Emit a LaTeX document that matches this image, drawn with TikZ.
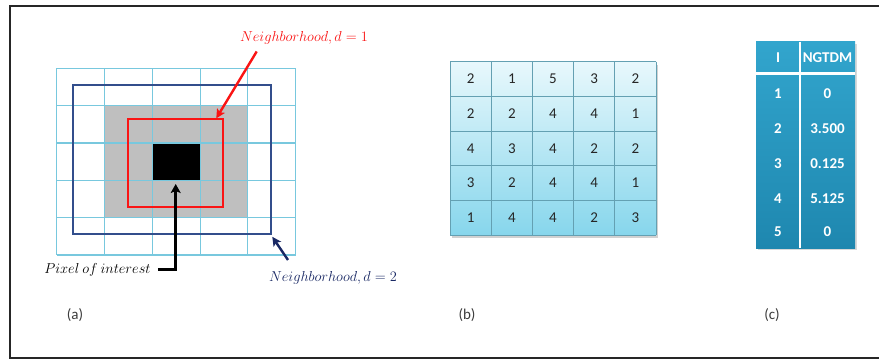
\documentclass[tikz,border=0pt]{standalone}
\usepackage{fontspec}
\setmainfont{Carlito}
\usetikzlibrary{arrows.meta,calc}

\definecolor{gridcyan}{RGB}{120,200,222}
\definecolor{nbrred}{RGB}{250,20,20}
\definecolor{nbrblue}{RGB}{50,78,140}
\definecolor{navy}{RGB}{25,40,100}
\definecolor{lbltxt}{RGB}{60,60,60}
\definecolor{celltop}{RGB}{232,248,252}
\definecolor{cellbot}{RGB}{135,214,236}
\definecolor{cellline}{RGB}{100,160,178}
\definecolor{tabtop}{RGB}{50,165,205}
\definecolor{tabbot}{RGB}{30,135,175}

\tikzset{
  frame/.style={draw=black!85, line width=2.2pt},
  gridline/.style={draw=gridcyan, line width=1.1pt},
  redbox/.style={draw=nbrred, line width=2pt},
  bluebox/.style={draw=nbrblue, line width=2pt},
  redarrow/.style={draw=nbrred, line width=2.4pt, -{Stealth[length=9pt,width=9pt,inset=2pt]}},
  bluearrow/.style={draw=navy, line width=2.4pt, -{Stealth[length=9pt,width=9pt,inset=2pt]}},
  blackarrow/.style={draw=black, line width=2.6pt, -{Stealth[length=9pt,width=10pt,inset=2pt]}},
  mathlbl/.style={inner sep=0pt},
  numcell/.style={inner sep=0pt, text=black!85, font=\fontsize{15}{18}\selectfont},
  tabtxt/.style={inner sep=0pt, text=white, font=\fontsize{15}{18}\selectfont\bfseries},
  caption/.style={inner sep=0pt, text=lbltxt, font=\fontsize{15}{18}\selectfont},
}

\begin{document}
\begin{tikzpicture}[x=1pt,y=-1pt]
\useasboundingbox (0,0) rectangle (879,363);
\fill[white] (0,0) rectangle (879,363);

% outer frame, open to the right
\draw[frame] (890,6) -- (10,6) -- (10,358) -- (890,358);

% ---------- (a) neighbourhood sketch ----------
\def\gx{56.7}\def\gy{68.3}\def\cw{47.8}\def\ch{37.34}
\fill[black!25] (\gx+\cw,\gy+\ch) rectangle (\gx+4*\cw,\gy+4*\ch);
\fill[black] (\gx+2*\cw,\gy+2*\ch) rectangle (\gx+3*\cw,\gy+3*\ch);
\foreach \i in {0,...,5} {
  \draw[gridline] (\gx+\i*\cw,\gy) -- (\gx+\i*\cw,\gy+5*\ch);
  \draw[gridline] (\gx,\gy+\i*\ch) -- (\gx+5*\cw,\gy+\i*\ch);
}
\node[bluebox, minimum width=198pt, minimum height=149.3pt, inner sep=0pt] (nbr2) at (172.3,159.65) {};
\node[redbox, minimum width=95pt, minimum height=87.4pt, inner sep=0pt] (nbr1) at (175.8,163) {};
\coordinate (poi) at (175.7,184);

\node[mathlbl, text=nbrred, font=\fontsize{15}{18}\selectfont] (lbl1) at (304,38) {$Neighborhood, d = 1$};
\node[mathlbl, text=navy, font=\fontsize{15}{18}\selectfont] (lbl2) at (333,278) {$Neighborhood, d = 2$};
\node[mathlbl, text=black, font=\fontsize{13.6}{16}\selectfont] (lblp) at (97.5,269.5) {$Pixel\ of\ interest$};

\coordinate (r1tail) at (256.7,51.5);
\coordinate (r1head) at ($(nbr1.north east)+(-8,0)$);
\draw[redarrow] (r1tail) -- (r1head);

\coordinate (b2tail) at (288,260);
\coordinate (b2head) at ($(nbr2.south east)+(0,1.5)$);
\draw[bluearrow] (b2tail) -- (b2head);

\draw[blackarrow] ([xshift=7pt]lblp.east) -| (poi);

% ---------- (b) grey-level grid ----------
\def\bx{450}\def\by{61.7}\def\bw{41.2}\def\bh{34.66}
\fill[black!18] (\bx+2,\by+3) rectangle (\bx+5*\bw+2,\by+5*\bh+3);
\shade[top color=celltop, bottom color=cellbot] (\bx,\by) rectangle (\bx+5*\bw,\by+5*\bh);
\foreach \i in {0,...,5} {
  \draw[cellline, line width=0.8pt] (\bx+\i*\bw,\by) -- (\bx+\i*\bw,\by+5*\bh);
  \draw[cellline, line width=0.8pt] (\bx,\by+\i*\bh) -- (\bx+5*\bw,\by+\i*\bh);
}
\foreach \row [count=\r from 0] in {{2,1,5,3,2},{2,2,4,4,1},{4,3,4,2,2},{3,2,4,4,1},{1,4,4,2,3}} {
  \foreach \v [count=\c from 0] in \row {
    \node[numcell] (g\r\c) at (\bx+\c*\bw+0.5*\bw,\by+\r*\bh+0.5*\bh) {\v};
  }
}

% ---------- (c) NGTDM table ----------
\fill[black!15] (758,44) rectangle (857,250.5);
\shade[top color=tabtop, bottom color=tabbot] (756,41.7) rectangle (855,248.3);
\draw[white, line width=3pt] (756,73.5) -- (855,73.5);
\draw[white, line width=2pt] (800,41.7) -- (800,248.3);
\node[tabtxt] (hI) at (778,57.5) {I};
\node[tabtxt] (hN) at (827.5,57.5) {NGTDM};
\foreach \lv/\nv/\yy [count=\k] in {1/0/94,2/3.500/129,3/0.125/164,4/5.125/199,5/0/232} {
  \node[tabtxt] (ti\k) at (778,\yy) {\lv};
  \node[tabtxt] (tn\k) at (827.5,\yy) {\nv};
}

% ---------- captions ----------
\node[caption] (capa) at (75,315) {(a)};
\node[caption] (capb) at (467,315) {(b)};
\node[caption] (capc) at (772,315) {(c)};
\end{tikzpicture}
\end{document}
